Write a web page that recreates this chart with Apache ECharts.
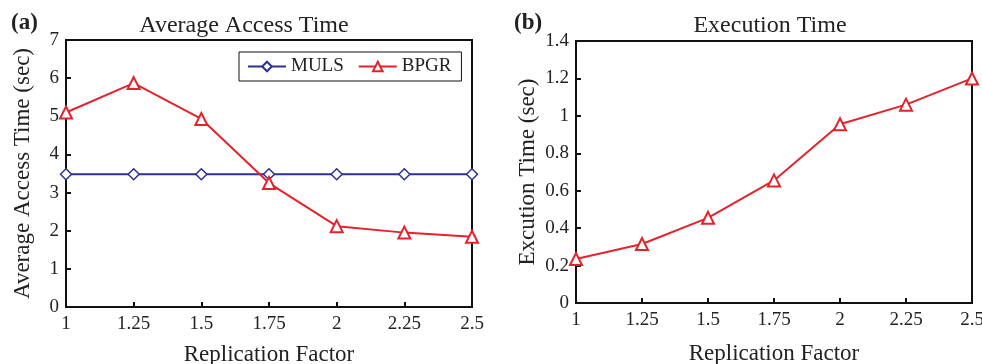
<!DOCTYPE html>
<html>
<head>
<meta charset="utf-8">
<script src="https://cdn.jsdelivr.net/npm/echarts@6/dist/echarts.min.js"></script>
<style>
  html, body { margin: 0; padding: 0; background: #fff; }
  #chart { width: 982px; height: 364px; }
</style>
</head>
<body>
<div id="chart"></div>
<script>
// replication factors shared by both panels
const replication = [1, 1.25, 1.5, 1.75, 2, 2.25, 2.5];
// (a) average access time, sec
const mulsAccess = [3.48, 3.48, 3.48, 3.48, 3.48, 3.48, 3.48];
const bpgrAccess = [5.1, 5.87, 4.93, 3.25, 2.12, 1.95, 1.84];
// (b) execution time, sec
const bpgrExec = [0.235, 0.315, 0.455, 0.655, 0.955, 1.06, 1.2];

const serif = 'Liberation Serif';
const red = '#e3232c';
const navy = '#2e3192';

const pair = (xs, ys) => xs.map((x, i) => [x, ys[i]]);

const chart = echarts.init(document.getElementById('chart'));

function xAxisFor(gridIndex, gap) {
    return {
        type: 'value', gridIndex, min: 1, max: 2.5, interval: 0.25,
        name: 'Replication Factor', nameLocation: 'middle', nameGap: gap,
        nameTextStyle: { fontFamily: serif, fontSize: 23, color: '#222' },
        axisLine: { show: true, lineStyle: { color: '#111', width: 2 } },
        axisTick: { show: true, inside: true, length: 5, lineStyle: { color: '#111', width: 2 } },
        axisLabel: { fontFamily: serif, fontSize: 19, color: '#222', margin: 8 },
        splitLine: { show: false }
    };
}

function yAxisFor(gridIndex, max, interval, name, gap) {
    return {
        type: 'value', gridIndex, min: 0, max, interval,
        name, nameLocation: 'middle', nameGap: gap,
        nameTextStyle: { fontFamily: serif, fontSize: 23, color: '#222' },
        axisLine: { show: true, lineStyle: { color: '#111', width: 2 } },
        axisTick: { show: true, inside: true, length: 5, lineStyle: { color: '#111', width: 2 } },
        axisLabel: { fontFamily: serif, fontSize: 19, color: '#222', margin: 7 },
        splitLine: { show: false }
    };
}

const option = {
    animation: false,
    backgroundColor: '#fff',
    title: [
        { text: 'Average Access Time', left: 239, top: 9, textAlign: 'center',
          textStyle: { fontFamily: serif, fontSize: 24, fontWeight: 'normal', color: '#222' } },
        { text: 'Execution Time', left: 765, top: 9, textAlign: 'center',
          textStyle: { fontFamily: serif, fontSize: 24, fontWeight: 'normal', color: '#222' } },
        { text: '(a)', left: 6, top: 7,
          textStyle: { fontFamily: serif, fontSize: 23, fontWeight: 'bold', color: '#222' } },
        { text: '(b)', left: 509, top: 7,
          textStyle: { fontFamily: serif, fontSize: 23, fontWeight: 'bold', color: '#222' } }
    ],
    legend: {
        left: 239, top: 52,
        padding: [5, 10, 5, 8],
        itemGap: 14, itemWidth: 38, itemHeight: 12,
        borderColor: '#111', borderWidth: 1,
        textStyle: { fontFamily: serif, fontSize: 19, color: '#222' },
        data: ['MULS', 'BPGR']
    },
    grid: [
        { left: 66, right: 510, top: 40, bottom: 57, outerBoundsMode: 'none',
          show: true, borderColor: '#111', borderWidth: 2 },
        { left: 576, right: 10, top: 41, bottom: 61, outerBoundsMode: 'none',
          show: true, borderColor: '#111', borderWidth: 2 }
    ],
    xAxis: [xAxisFor(0, 36), xAxisFor(1, 39)],
    yAxis: [
        yAxisFor(0, 7, 1, 'Average Access Time (sec)', 32),
        yAxisFor(1, 1.4, 0.2, 'Excution Time (sec)', 37)
    ],
    series: [
        {
            name: 'MULS', type: 'line', xAxisIndex: 0, yAxisIndex: 0,
            data: pair(replication, mulsAccess),
            symbol: 'diamond', symbolSize: 11,
            lineStyle: { color: navy, width: 2 },
            itemStyle: { color: '#fff', borderColor: navy, borderWidth: 1.5 }
        },
        {
            name: 'BPGR', type: 'line', xAxisIndex: 0, yAxisIndex: 0,
            data: pair(replication, bpgrAccess),
            symbol: 'triangle', symbolSize: 12,
            lineStyle: { color: red, width: 2 },
            itemStyle: { color: '#fff', borderColor: red, borderWidth: 2 }
        },
        {
            name: 'BPGR exec', type: 'line', xAxisIndex: 1, yAxisIndex: 1,
            data: pair(replication, bpgrExec),
            symbol: 'triangle', symbolSize: 12,
            lineStyle: { color: red, width: 2 },
            itemStyle: { color: '#fff', borderColor: red, borderWidth: 2 }
        }
    ]
};

chart.setOption(option);
</script>
</body>
</html>
